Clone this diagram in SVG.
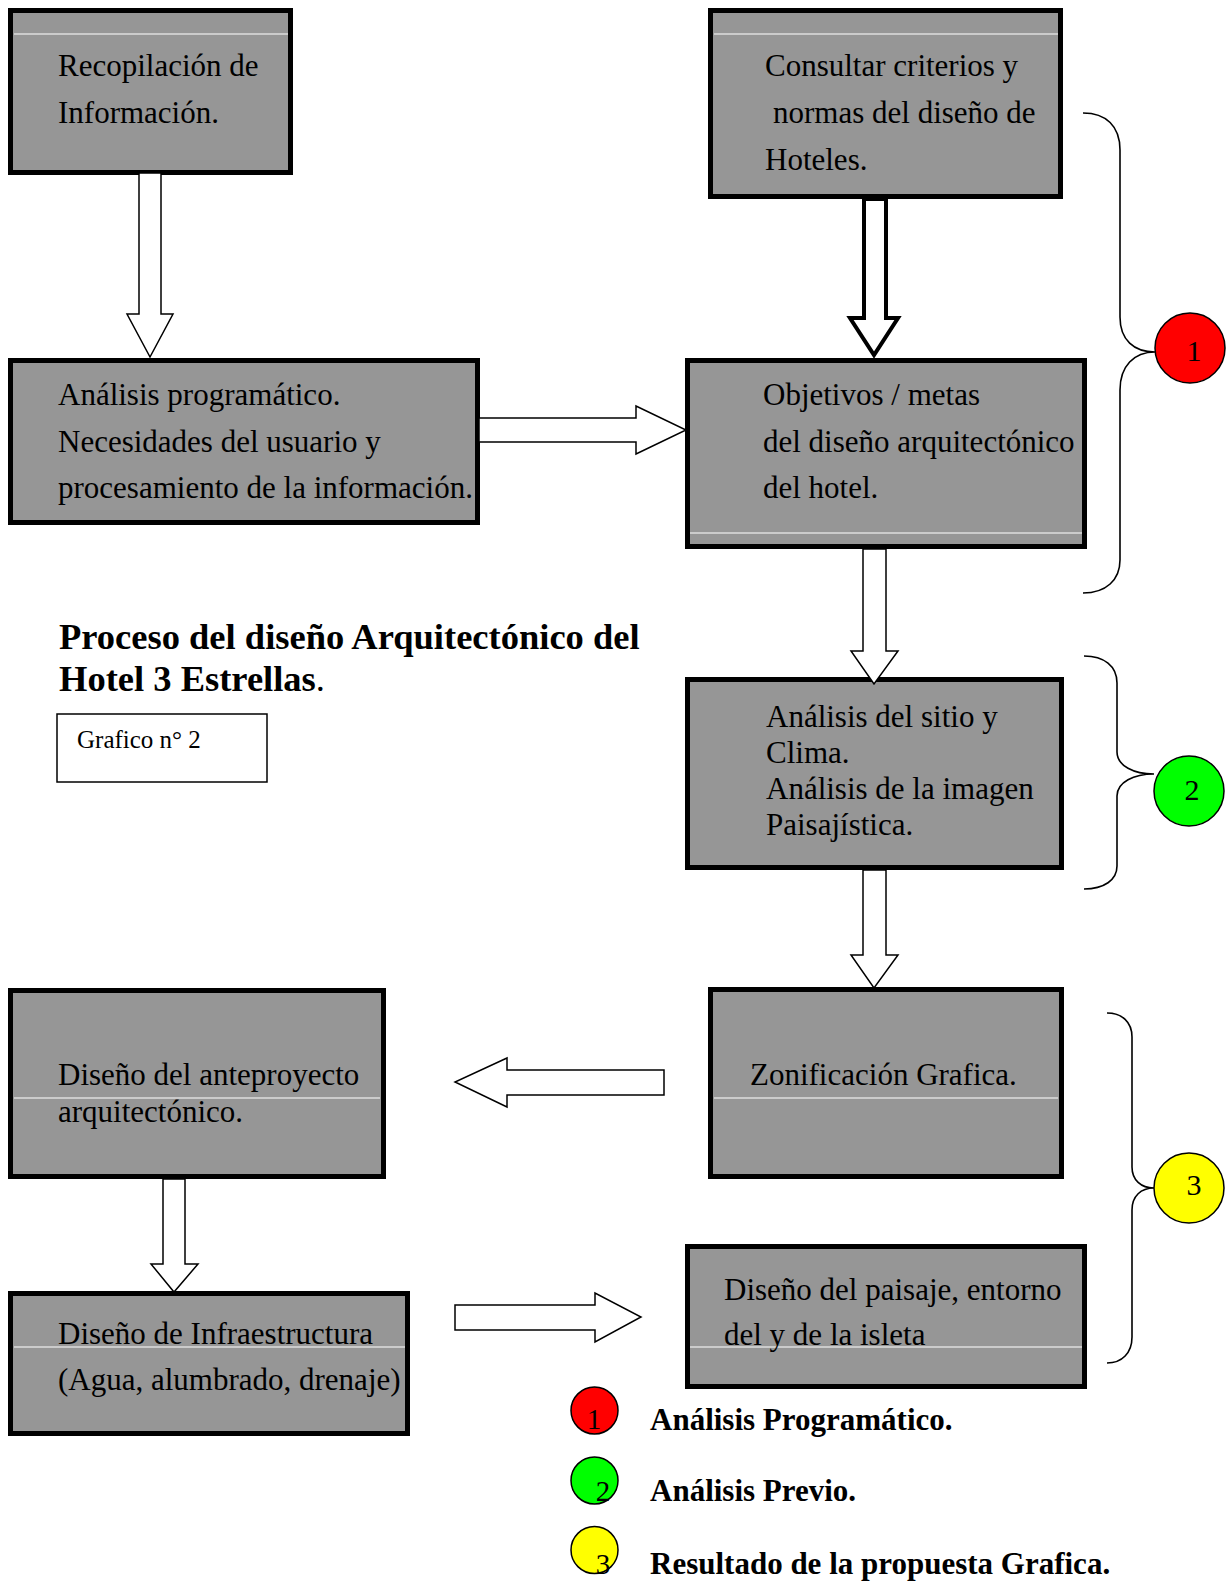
<svg xmlns="http://www.w3.org/2000/svg" width="1226" height="1581" viewBox="0 0 1226 1581">
<style>
.box{fill:#969696;stroke:#000;stroke-width:5}
.wl{stroke:#fff;stroke-width:1.2}
.t{font-family:"Liberation Serif","Times New Roman",serif;font-size:31px;fill:#000}
.b{font-family:"Liberation Serif","Times New Roman",serif;font-weight:bold;fill:#000}
.arr{fill:#fff;stroke:#000;stroke-width:1.5;stroke-linejoin:miter}
.arrk{fill:#fff;stroke:#000;stroke-width:4;stroke-linejoin:miter}
.br{fill:none;stroke:#000;stroke-width:1.6}
.c{stroke:#000;stroke-width:1.5}
.n{font-family:"Liberation Serif","Times New Roman",serif;font-size:30px;fill:#000;text-anchor:middle}
.ln{font-family:"Liberation Serif","Times New Roman",serif;font-size:29px;fill:#000;text-anchor:middle}
</style>
<rect width="1226" height="1581" fill="#fff"/>

<g id="n1">
<rect class="box" x="10.5" y="10.5" width="280" height="162"/>
<line class="wl" x1="14" y1="34" x2="288" y2="34"/>
<text class="t" x="58" y="76">Recopilación de</text>
<text class="t" x="58" y="123">Información.</text>
</g>

<g id="n2">
<rect class="box" x="710.5" y="10.5" width="350" height="186"/>
<line class="wl" x1="714" y1="34" x2="1058" y2="34"/>
<text class="t" x="765" y="76">Consultar criterios y</text>
<text class="t" x="773" y="123">normas del diseño de</text>
<text class="t" x="765" y="170">Hoteles.</text>
</g>

<g id="n3">
<rect class="box" x="10.5" y="360.5" width="467" height="162"/>
<text class="t" x="58" y="405">Análisis programático.</text>
<text class="t" x="58" y="452">Necesidades del usuario y</text>
<text class="t" x="58" y="498">procesamiento de la información.</text>
</g>

<g id="n4">
<rect class="box" x="687.5" y="360.5" width="397" height="186"/>
<line class="wl" x1="690" y1="533" x2="1082" y2="533"/>
<text class="t" x="763" y="405">Objetivos / metas</text>
<text class="t" x="763" y="452">del diseño arquitectónico</text>
<text class="t" x="763" y="498">del hotel.</text>
</g>

<g id="n5">
<rect class="box" x="687.5" y="679.5" width="374" height="188"/>
<text class="t" x="766" y="727">Análisis del sitio y</text>
<text class="t" x="766" y="763">Clima.</text>
<text class="t" x="766" y="799">Análisis de la imagen</text>
<text class="t" x="766" y="835">Paisajística.</text>
</g>

<g id="n6">
<rect class="box" x="710.5" y="989.5" width="351" height="187"/>
<line class="wl" x1="714" y1="1098" x2="1058" y2="1098"/>
<text class="t" x="750" y="1085">Zonificación Grafica.</text>
</g>

<g id="n7">
<rect class="box" x="687.5" y="1246.5" width="397" height="140"/>
<line class="wl" x1="690" y1="1347" x2="1082" y2="1347"/>
<text class="t" x="724" y="1300">Diseño del paisaje, entorno</text>
<text class="t" x="724" y="1345">del y de la isleta</text>
</g>

<g id="n8">
<rect class="box" x="10.5" y="990.5" width="373" height="186"/>
<line class="wl" x1="14" y1="1098" x2="380" y2="1098"/>
<text class="t" x="58" y="1085">Diseño del anteproyecto</text>
<text class="t" x="58" y="1122">arquitectónico.</text>
</g>

<g id="n9">
<rect class="box" x="10.5" y="1293.5" width="397" height="140"/>
<line class="wl" x1="14" y1="1347" x2="405" y2="1347"/>
<text class="t" x="58" y="1344">Diseño de Infraestructura</text>
<text class="t" x="58" y="1390">(Agua, alumbrado, drenaje)</text>
</g>

<g id="title">
<text class="b" font-size="36.5" x="59" y="649">Proceso del diseño Arquitectónico del</text>
<text class="b" font-size="36.5" x="59" y="691">Hotel 3 Estrellas<tspan font-weight="normal">.</tspan></text>
</g>

<g id="grafico">
<rect x="57" y="714" width="210" height="68" fill="#fff" stroke="#000" stroke-width="1.5"/>
<text class="t" x="77" y="748" style="font-size:25px">Grafico n° 2</text>
</g>

<g id="connectors">
<polygon class="arr" points="139,173 161,173 161,314 173,314 150,357 127,314 139,314"/>
<polygon class="arrk" points="864,199 886,199 886,318 898,318 874,355 850,318 864,318"/>
<polygon class="arr" points="479,418 636,418 636,406 686,430 636,454 636,442 479,442"/>
<polygon class="arr" points="863,549 886,549 886,651 898,651 874,684 851,651 863,651"/>
<polygon class="arr" points="863,870 886,870 886,955 898,955 874,988 851,955 863,955"/>
<polygon class="arr" points="664,1070 507,1070 507,1058 455,1082 507,1107 507,1095 664,1095"/>
<polygon class="arr" points="163,1179 185,1179 185,1264 198,1264 174,1292 151,1264 163,1264"/>
<polygon class="arr" points="455,1305 595,1305 595,1293 641,1317 595,1342 595,1330 455,1330"/>
</g>

<g id="brackets">
<path class="br" d="M1083,113 C1106,113 1120,126 1120,150 L1120,317 C1120,340 1134,352 1155,352 C1134,352 1120,366 1120,390 L1120,560 C1120,580 1106,593 1083,593"/>
<path class="br" d="M1084,656 C1104,656 1117,666 1117,683 L1117,752 C1117,766 1134,774 1154,774 C1134,774 1117,782 1117,796 L1117,866 C1117,880 1104,889 1084,889"/>
<path class="br" d="M1107,1013 C1122,1013 1132,1022 1132,1037 L1132,1167 C1132,1180 1141,1188 1154,1188 C1141,1188 1132,1196 1132,1210 L1132,1337 C1132,1353 1122,1363 1107,1363"/>
</g>

<g id="g1">
<circle class="c" cx="1190" cy="348" r="35" fill="#ff0000"/>
<text class="n" x="1194" y="361">1</text>
</g>
<g id="g2">
<circle class="c" cx="1189" cy="791" r="35" fill="#00ff00"/>
<text class="n" x="1192" y="800">2</text>
</g>
<g id="g3">
<circle class="c" cx="1189" cy="1188" r="35" fill="#ffff00"/>
<text class="n" x="1194" y="1195">3</text>
</g>

<g id="legend">
<ellipse class="c" cx="594.5" cy="1410.5" rx="23.5" ry="23.5" fill="#ff0000"/>
<text class="ln" x="594" y="1429">1</text>
<text class="b" font-size="31" x="650" y="1430">Análisis Programático.</text>
<ellipse class="c" cx="594.5" cy="1480.5" rx="23.5" ry="23.5" fill="#00ff00"/>
<text class="ln" x="603" y="1501">2</text>
<text class="b" font-size="31" x="650" y="1501">Análisis Previo.</text>
<ellipse class="c" cx="594.5" cy="1550" rx="23.5" ry="23.5" fill="#ffff00"/>
<text class="ln" x="603" y="1574">3</text>
<text class="b" font-size="31" x="650" y="1574">Resultado de la propuesta Grafica.</text>
</g>
</svg>
